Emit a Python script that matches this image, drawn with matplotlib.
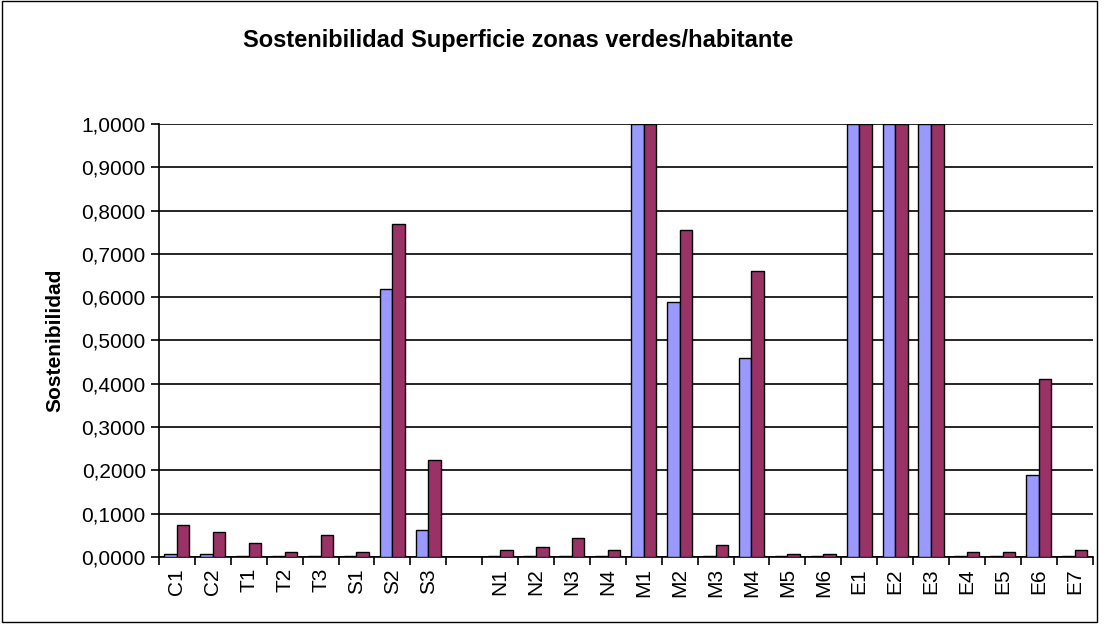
import numpy as np
import matplotlib
matplotlib.use("Agg")
from matplotlib import pyplot as plt
from matplotlib.patches import Rectangle
from matplotlib.ticker import FuncFormatter, MultipleLocator

plt.rcParams['font.family'] = ['Liberation Sans', 'DejaVu Sans']

categories = ["C1", "C2", "T1", "T2", "T3", "S1", "S2", "S3", "",
              "N1", "N2", "N3", "N4", "M1", "M2", "M3", "M4", "M5", "M6",
              "E1", "E2", "E3", "E4", "E5", "E6", "E7"]
serie1 = [0.008, 0.006, 0.003, 0.003, 0.003, 0.003, 0.62, 0.063, np.nan,
          0.003, 0.003, 0.003, 0.003, 1.0, 0.59, 0.003, 0.46, 0.003, 0.003,
          1.0, 1.0, 1.0, 0.003, 0.003, 0.19, 0.003]
serie2 = [0.073, 0.057, 0.032, 0.012, 0.050, 0.012, 0.77, 0.225, np.nan,
          0.016, 0.023, 0.044, 0.016, 1.0, 0.755, 0.027, 0.66, 0.008, 0.008,
          1.0, 1.0, 1.0, 0.011, 0.011, 0.41, 0.015]

fig = plt.figure(figsize=(11.07, 6.32), dpi=100)
ax = fig.add_axes([0.1436, 0.1187, 0.8434, 0.6851])

x = np.arange(len(categories))
w = 0.35
ax.bar(x - w / 2, serie1, w, color="#9999FF", edgecolor="black", linewidth=1, zorder=3)
ax.bar(x + w / 2, serie2, w, color="#993366", edgecolor="black", linewidth=1, zorder=3)

ax.set_xlim(-0.5, len(categories) - 0.5)
ax.set_ylim(0, 1.0)
ax.yaxis.set_major_locator(MultipleLocator(0.1))
ax.yaxis.set_major_formatter(FuncFormatter(lambda v, p: f"{v:.4f}".replace(".", ",")))
ax.grid(axis="y", color="black", linewidth=1.2, zorder=0)

ax.set_xticks(x)
ax.set_xticklabels(categories, rotation=90, fontsize=15)
ax.tick_params(axis="x", which="major", length=0, pad=8)
ax.set_xticks(np.arange(-0.5, len(categories)), minor=True)
ax.tick_params(axis="x", which="minor", length=6, width=1.2, direction="out")
ax.tick_params(axis="y", labelsize=15, length=6, width=1.2, direction="out")

for side in ["top", "right"]:
    ax.spines[side].set_visible(False)
ax.spines["left"].set_linewidth(1.2)
ax.spines["bottom"].set_linewidth(1.2)

ax.set_ylabel("Sostenibilidad", fontsize=15, fontweight="bold", labelpad=12)
fig.text(0.468, 0.936, "Sostenibilidad Superficie zonas verdes/habitante",
         ha="center", va="center", fontsize=17, fontweight="bold")

fig.patches.append(Rectangle((0.002, 0.016), 0.989, 0.982, transform=fig.transFigure,
                             fill=False, edgecolor="black", linewidth=1))

fig.savefig("out.png", dpi=100)
